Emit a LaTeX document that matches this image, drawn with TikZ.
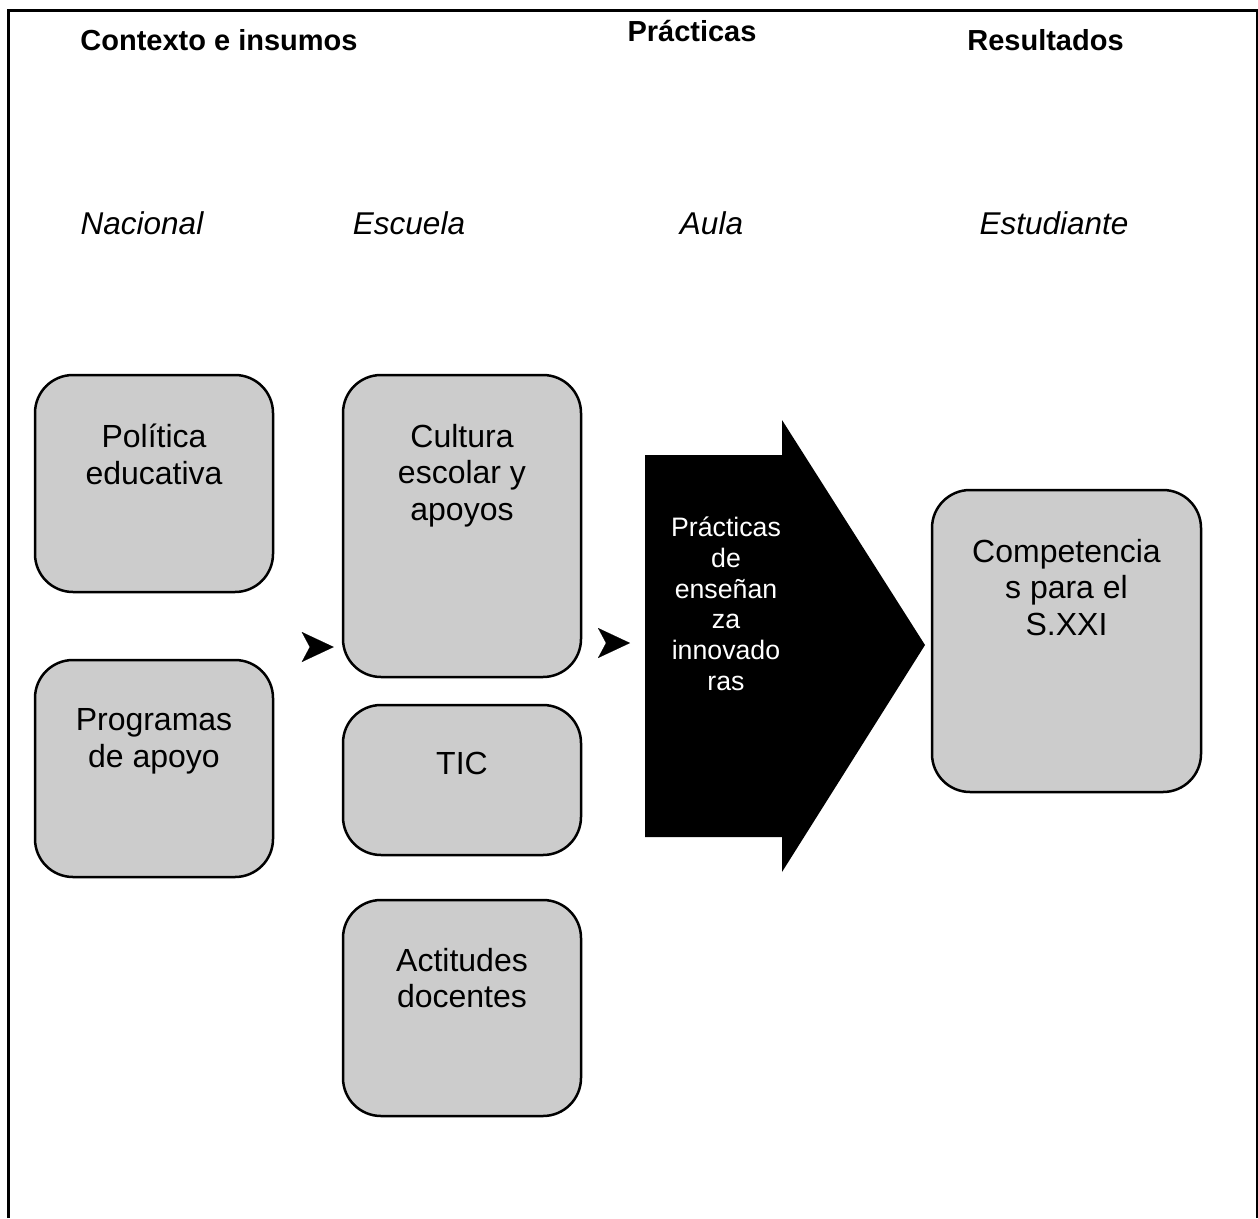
\documentclass[tikz,border=0pt]{standalone}
\usepackage{fontspec}
\setmainfont{Liberation Sans}
\usetikzlibrary{arrows.meta}
\definecolor{boxgray}{HTML}{CCCCCC}
\begin{document}
\begin{tikzpicture}[x=1pt,y=-1pt,
  box/.style={draw=black,line width=2.5pt,fill=boxgray,rounded corners=38pt,inner sep=0pt},
  boxtext/.style={font=\fontsize{32}{36.8}\selectfont,align=center,inner sep=0pt,anchor=north,execute at begin node=\strut},
  arrowtext/.style={font=\fontsize{26.7}{30.7}\selectfont,align=center,inner sep=0pt,anchor=north,text=white,execute at begin node=\strut},
  header/.style={font=\fontsize{29}{33}\selectfont\bfseries,inner sep=0pt,anchor=base},
  level/.style={font=\fontsize{31.5}{36}\selectfont\itshape,inner sep=0pt,anchor=base},
  tipline/.style={draw=black,line width=0.1pt,-{Stealth[length=32pt,width=30pt,inset=8pt]}}
]
\useasboundingbox (0,0) rectangle (1258,1218);
% frame
\draw[line width=3pt] (8,1218) -- (8,10) -- (1257,10) -- (1257,1218);

% headers
\node[header] (h1) at (219,50.4) {Contexto e insumos};
\node[header] (h2) at (692,41.4) {Prácticas};
\node[header] (h3) at (1045.5,50.4) {Resultados};

\node[level] (l1) at (142,234.3) {Nacional};
\node[level] (l2) at (409,234.3) {Escuela};
\node[level] (l3) at (711.5,234.3) {Aula};
\node[level] (l4) at (1054,234.3) {Estudiante};

% boxes
\node[box,minimum width=238pt,minimum height=217pt] (pol) at (154,483.5) {};
\node[boxtext] (polT) at (154,423.7) {Política\\educativa};
\node[box,minimum width=238pt,minimum height=217pt] (prog) at (154,768.5) {};
\node[boxtext] (progT) at (154,708) {Programas\\de apoyo};
\node[box,minimum width=238pt,minimum height=302pt] (cult) at (462,526) {};
\node[boxtext] (cultT) at (462,423.7) {Cultura\\escolar y\\apoyos};
\node[box,minimum width=238pt,minimum height=150pt] (tic) at (462,780) {};
\node[boxtext,anchor=base] (ticT) at (462,774.5) {TIC};
\node[box,minimum width=238pt,minimum height=216pt] (act) at (462,1008) {};
\node[boxtext] (actT) at (462,947.7) {Actitudes\\docentes};
\node[box,minimum width=269pt,minimum height=302pt] (comp) at (1066.5,641) {};
\node[boxtext] (compT) at (1066.5,538.7) {Competencia\\s para el\\S.XXI};

% big arrow
\fill[black] (645,455) -- (782,455) -- (782,420) -- (925,645) -- (782,872) -- (782,837) -- (645,837) -- cycle;
\node[arrowtext] (arrT) at (726,517) {Prácticas\\de\\enseñan\\za\\innovado\\ras};

% small arrowheads
\coordinate (a1) at (311,647);
\coordinate (a2) at (607,643);
\coordinate (bigw) at (645,643);
\draw[tipline,shorten >=8pt] (a1) -- (a1 -| cult.west);
\draw[tipline,shorten >=15pt] (a2) -- (bigw);
\end{tikzpicture}
\end{document}
